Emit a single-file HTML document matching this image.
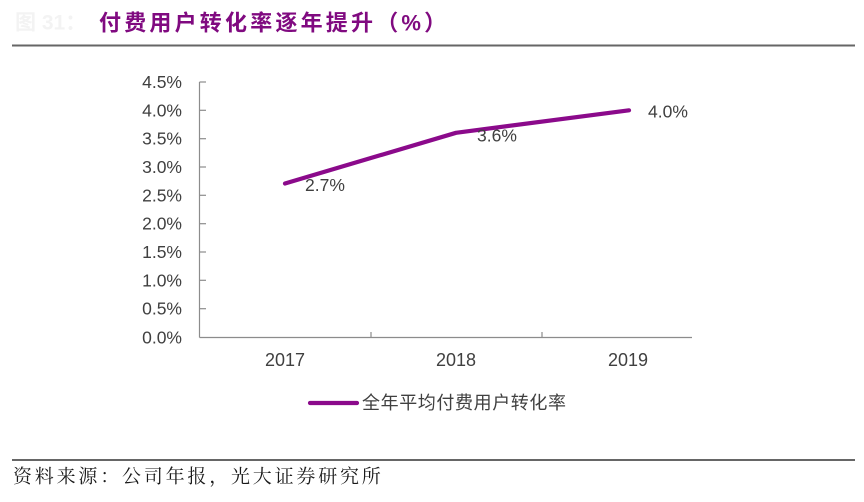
<!DOCTYPE html>
<html>
<head>
<meta charset="utf-8">
<style>
  html, body { margin: 0; padding: 0; background: #ffffff; }
  body { width: 864px; height: 502px; overflow: hidden; }
  svg { display: block; }
</style>
</head>
<body>
<svg width="864" height="502" viewBox="0 0 864 502" xmlns="http://www.w3.org/2000/svg">
  <rect x="0" y="0" width="864" height="502" fill="#ffffff"/>

  <!-- faint figure number -->
  <text x="15" y="23" dominant-baseline="central" font-family="'Liberation Sans','Noto Sans CJK SC',sans-serif" font-size="21" font-weight="bold" fill="#f3f3f3">图 31：</text>
  <!-- title -->
  <text x="99" y="23" dominant-baseline="central" font-family="'Liberation Sans','Noto Sans CJK SC',sans-serif" font-size="22" font-weight="bold" letter-spacing="3.2" fill="#800a80">付费用户转化率逐年提升（%）</text>
  <line x1="12" y1="45.5" x2="855" y2="45.5" stroke="#666666" stroke-width="2"/>

  <!-- axes -->
  <g stroke="#8c8c8c" stroke-width="1.2" fill="none">
    <line x1="199.5" y1="82" x2="199.5" y2="337.5"/>
    <line x1="199.5" y1="337.5" x2="692" y2="337.5"/>
    <!-- y ticks -->
    <line x1="199.5" y1="82" x2="206" y2="82"/>
    <line x1="199.5" y1="110.3" x2="206" y2="110.3"/>
    <line x1="199.5" y1="138.7" x2="206" y2="138.7"/>
    <line x1="199.5" y1="167" x2="206" y2="167"/>
    <line x1="199.5" y1="195.3" x2="206" y2="195.3"/>
    <line x1="199.5" y1="223.7" x2="206" y2="223.7"/>
    <line x1="199.5" y1="252" x2="206" y2="252"/>
    <line x1="199.5" y1="280.3" x2="206" y2="280.3"/>
    <line x1="199.5" y1="308.7" x2="206" y2="308.7"/>
    <!-- x ticks -->
    <line x1="371" y1="332" x2="371" y2="337.5"/>
    <line x1="542" y1="332" x2="542" y2="337.5"/>
  </g>

  <!-- y labels -->
  <g font-family="'Liberation Sans',sans-serif" font-size="17.5" fill="#404040" text-anchor="end" dominant-baseline="central">
    <text x="182" y="82">4.5%</text>
    <text x="182" y="110.3">4.0%</text>
    <text x="182" y="138.7">3.5%</text>
    <text x="182" y="167">3.0%</text>
    <text x="182" y="195.3">2.5%</text>
    <text x="182" y="223.7">2.0%</text>
    <text x="182" y="252">1.5%</text>
    <text x="182" y="280.3">1.0%</text>
    <text x="182" y="308.7">0.5%</text>
    <text x="182" y="337.5">0.0%</text>
  </g>

  <!-- x labels -->
  <g font-family="'Liberation Sans',sans-serif" font-size="18" fill="#404040" text-anchor="middle">
    <text x="285" y="366">2017</text>
    <text x="456" y="366">2018</text>
    <text x="628" y="366">2019</text>
  </g>

  <!-- series -->
  <polyline points="285,183.5 456,132.8 629,110.3" fill="none" stroke="#8b0a8b" stroke-width="4.2" stroke-linejoin="round" stroke-linecap="round"/>

  <!-- data labels -->
  <g font-family="'Liberation Sans',sans-serif" font-size="17.5" fill="#404040">
    <text x="305" y="191">2.7%</text>
    <text x="477" y="141.5">3.6%</text>
    <text x="648" y="117.5">4.0%</text>
  </g>

  <!-- legend -->
  <line x1="310" y1="403" x2="357" y2="403" stroke="#8b0a8b" stroke-width="4.2" stroke-linecap="round"/>
  <text x="362" y="403" dominant-baseline="central" font-family="'Liberation Sans','Noto Sans CJK SC',sans-serif" font-size="18" letter-spacing="0.6" fill="#404040">全年平均付费用户转化率</text>

  <!-- footer -->
  <line x1="12" y1="460" x2="855" y2="460" stroke="#666666" stroke-width="2"/>
  <text x="13" y="477" dominant-baseline="central" font-family="'Liberation Serif','Noto Serif CJK SC',serif" font-size="19" letter-spacing="2.8" fill="#1a1a1a">资料来源：公司年报，光大证券研究所</text>
</svg>
</body>
</html>
